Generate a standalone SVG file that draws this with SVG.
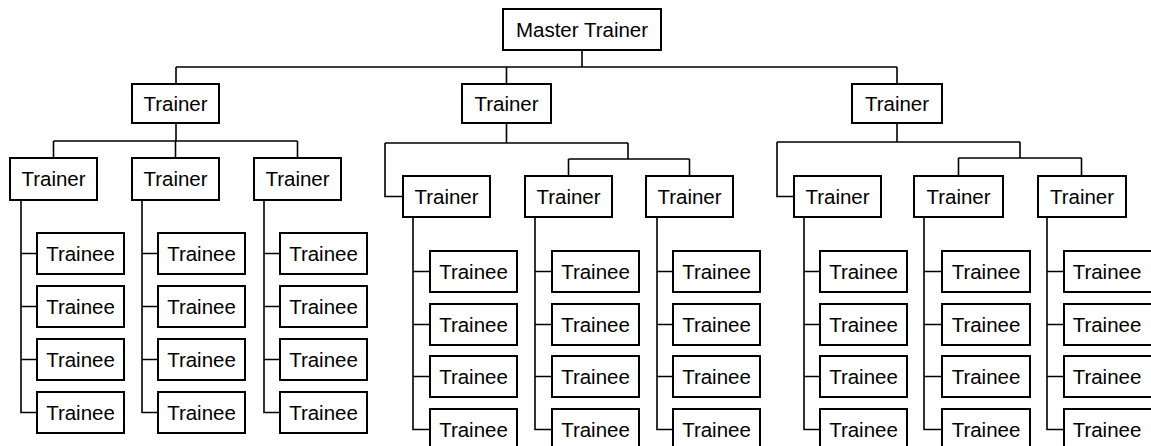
<svg xmlns="http://www.w3.org/2000/svg" width="1151" height="446" viewBox="0 0 1151 446">
<style>
.b{fill:#fff;stroke:#000;stroke-width:2}
.t{font-family:"Liberation Sans",Arial,sans-serif;font-size:20.5px;fill:#000;text-anchor:middle}
.c{fill:none;stroke:#000;stroke-width:1.6}
</style>
<rect width="1151" height="446" fill="#fff"/>
<g id="connectors" class="c">
<path d="M582 50V67M176 67H897M176 67V84M506.5 67V84M897 67V84"/>
<path d="M176 123V141M53.5 141H297.5M53.5 141V158M175.5 141V158M297.5 141V158"/>
<path d="M506.5 123V143M385 143H628M385 143V196.5H403M628 143V159M568.5 159H689.5M568.5 159V176M689.5 159V176"/>
<path d="M897 123V142M777 142H1020M777 142V196.5H794M1020 142V158M958.5 158H1081.5M958.5 158V176M1081.5 158V176"/>
<path d="M21 200V412.5H37M21 253.5H37M21 306.5H37M21 359.5H37"/>
<path d="M142 200V412.5H158M142 253.5H158M142 306.5H158M142 359.5H158"/>
<path d="M264 200V412.5H280M264 253.5H280M264 306.5H280M264 359.5H280"/>
<path d="M413 217V429.5H430M413 271.5H430M413 324.5H430M413 376.5H430"/>
<path d="M535 217V429.5H552M535 271.5H552M535 324.5H552M535 376.5H552"/>
<path d="M657 217V429.5H673M657 271.5H673M657 324.5H673M657 376.5H673"/>
<path d="M804 217V429.5H820M804 271.5H820M804 324.5H820M804 376.5H820"/>
<path d="M924 217V429.5H942M924 271.5H942M924 324.5H942M924 376.5H942"/>
<path d="M1047 217V429.5H1064M1047 271.5H1064M1047 324.5H1064M1047 376.5H1064"/>
</g>
<g id="master"><rect class="b" x="503" y="9" width="158" height="41"/><text class="t" x="582" y="37">Master Trainer</text></g>
<g id="t1"><rect class="b" x="132" y="84" width="87" height="39"/><text class="t" x="175.5" y="111">Trainer</text></g>
<g id="t2"><rect class="b" x="462" y="84" width="89" height="39"/><text class="t" x="506.5" y="111">Trainer</text></g>
<g id="t3"><rect class="b" x="852" y="84" width="90" height="39"/><text class="t" x="897" y="111">Trainer</text></g>
<g id="t1a"><rect class="b" x="10" y="158" width="87" height="42"/><text class="t" x="53.5" y="186">Trainer</text></g>
<g id="t1b"><rect class="b" x="132" y="158" width="87" height="42"/><text class="t" x="175.5" y="186">Trainer</text></g>
<g id="t1c"><rect class="b" x="254" y="158" width="87" height="42"/><text class="t" x="297.5" y="186">Trainer</text></g>
<g id="t2a"><rect class="b" x="403" y="176" width="87" height="41"/><text class="t" x="446.5" y="204">Trainer</text></g>
<g id="t2b"><rect class="b" x="525" y="176" width="87" height="41"/><text class="t" x="568.5" y="204">Trainer</text></g>
<g id="t2c"><rect class="b" x="646" y="176" width="87" height="41"/><text class="t" x="689.5" y="204">Trainer</text></g>
<g id="t3a"><rect class="b" x="794" y="176" width="87" height="41"/><text class="t" x="837.5" y="204">Trainer</text></g>
<g id="t3b"><rect class="b" x="914" y="176" width="89" height="41"/><text class="t" x="958.5" y="204">Trainer</text></g>
<g id="t3c"><rect class="b" x="1038" y="176" width="88" height="41"/><text class="t" x="1082" y="204">Trainer</text></g>
<g id="trainees-left">
<g id="e1"><rect class="b" x="37" y="233" width="87" height="41"/><text class="t" x="80.5" y="261">Trainee</text></g>
<g id="e2"><rect class="b" x="37" y="286" width="87" height="41"/><text class="t" x="80.5" y="314">Trainee</text></g>
<g id="e3"><rect class="b" x="37" y="339" width="87" height="41"/><text class="t" x="80.5" y="367">Trainee</text></g>
<g id="e4"><rect class="b" x="37" y="392" width="87" height="41"/><text class="t" x="80.5" y="420">Trainee</text></g>
<g id="e5"><rect class="b" x="158" y="233" width="87" height="41"/><text class="t" x="201.5" y="261">Trainee</text></g>
<g id="e6"><rect class="b" x="158" y="286" width="87" height="41"/><text class="t" x="201.5" y="314">Trainee</text></g>
<g id="e7"><rect class="b" x="158" y="339" width="87" height="41"/><text class="t" x="201.5" y="367">Trainee</text></g>
<g id="e8"><rect class="b" x="158" y="392" width="87" height="41"/><text class="t" x="201.5" y="420">Trainee</text></g>
<g id="e9"><rect class="b" x="280" y="233" width="87" height="41"/><text class="t" x="323.5" y="261">Trainee</text></g>
<g id="e10"><rect class="b" x="280" y="286" width="87" height="41"/><text class="t" x="323.5" y="314">Trainee</text></g>
<g id="e11"><rect class="b" x="280" y="339" width="87" height="41"/><text class="t" x="323.5" y="367">Trainee</text></g>
<g id="e12"><rect class="b" x="280" y="392" width="87" height="41"/><text class="t" x="323.5" y="420">Trainee</text></g>
</g>
<g id="trainees-mid">
<g id="e13"><rect class="b" x="430" y="251" width="87" height="41"/><text class="t" x="473.5" y="279">Trainee</text></g>
<g id="e14"><rect class="b" x="430" y="304" width="87" height="41"/><text class="t" x="473.5" y="332">Trainee</text></g>
<g id="e15"><rect class="b" x="430" y="356" width="87" height="41"/><text class="t" x="473.5" y="384">Trainee</text></g>
<g id="e16"><rect class="b" x="430" y="409" width="87" height="41"/><text class="t" x="473.5" y="437">Trainee</text></g>
<g id="e17"><rect class="b" x="552" y="251" width="87" height="41"/><text class="t" x="595.5" y="279">Trainee</text></g>
<g id="e18"><rect class="b" x="552" y="304" width="87" height="41"/><text class="t" x="595.5" y="332">Trainee</text></g>
<g id="e19"><rect class="b" x="552" y="356" width="87" height="41"/><text class="t" x="595.5" y="384">Trainee</text></g>
<g id="e20"><rect class="b" x="552" y="409" width="87" height="41"/><text class="t" x="595.5" y="437">Trainee</text></g>
<g id="e21"><rect class="b" x="673" y="251" width="87" height="41"/><text class="t" x="716.5" y="279">Trainee</text></g>
<g id="e22"><rect class="b" x="673" y="304" width="87" height="41"/><text class="t" x="716.5" y="332">Trainee</text></g>
<g id="e23"><rect class="b" x="673" y="356" width="87" height="41"/><text class="t" x="716.5" y="384">Trainee</text></g>
<g id="e24"><rect class="b" x="673" y="409" width="87" height="41"/><text class="t" x="716.5" y="437">Trainee</text></g>
</g>
<g id="trainees-right">
<g id="e25"><rect class="b" x="820" y="251" width="87" height="41"/><text class="t" x="863.5" y="279">Trainee</text></g>
<g id="e26"><rect class="b" x="820" y="304" width="87" height="41"/><text class="t" x="863.5" y="332">Trainee</text></g>
<g id="e27"><rect class="b" x="820" y="356" width="87" height="41"/><text class="t" x="863.5" y="384">Trainee</text></g>
<g id="e28"><rect class="b" x="820" y="409" width="87" height="41"/><text class="t" x="863.5" y="437">Trainee</text></g>
<g id="e29"><rect class="b" x="942" y="251" width="88" height="41"/><text class="t" x="986" y="279">Trainee</text></g>
<g id="e30"><rect class="b" x="942" y="304" width="88" height="41"/><text class="t" x="986" y="332">Trainee</text></g>
<g id="e31"><rect class="b" x="942" y="356" width="88" height="41"/><text class="t" x="986" y="384">Trainee</text></g>
<g id="e32"><rect class="b" x="942" y="409" width="88" height="41"/><text class="t" x="986" y="437">Trainee</text></g>
<g id="e33"><rect class="b" x="1064" y="251" width="90" height="41"/><text class="t" x="1107" y="279">Trainee</text></g>
<g id="e34"><rect class="b" x="1064" y="304" width="90" height="41"/><text class="t" x="1107" y="332">Trainee</text></g>
<g id="e35"><rect class="b" x="1064" y="356" width="90" height="41"/><text class="t" x="1107" y="384">Trainee</text></g>
<g id="e36"><rect class="b" x="1064" y="409" width="90" height="41"/><text class="t" x="1107" y="437">Trainee</text></g>
</g>
</svg>
